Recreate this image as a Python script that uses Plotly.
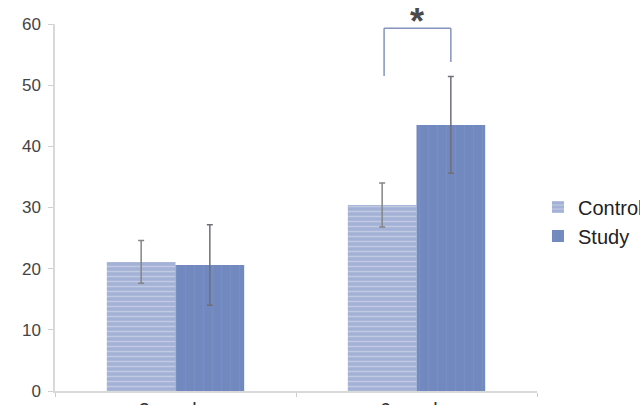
import plotly.graph_objects as go

# ---- data ----
categories = ["3 weeks", "6 weeks"]
control_values = [21.1, 30.4]
control_err = [3.5, 3.6]
study_values = [20.6, 43.5]
study_err = [6.6, 7.9]
y_ticks = [0, 10, 20, 30, 40, 50, 60]

# significance bracket (between Control and Study at "6 weeks")
bracket_top = 59.3
bracket_left_bottom = 51.5
bracket_right_bottom = 53.8
sig_label = "*"

BARGAP = 0.43
FONT = "Liberation Sans"

fig = go.Figure()
fig.add_trace(go.Bar(
    name="Control", x=categories, y=control_values,
    error_y=dict(type="data", array=control_err, color="#858585", thickness=1.5, width=3),
    marker=dict(color="#a2b1d5", line=dict(width=0),
                pattern=dict(shape="-", fgcolor="#dde3f0", size=5, solidity=0.3)),
))
fig.add_trace(go.Bar(
    name="Study", x=categories, y=study_values,
    error_y=dict(type="data", array=study_err, color="#6f6f78", thickness=1.5, width=3),
    marker=dict(color="#7189bf", line=dict(width=0),
                pattern=dict(shape="|", fgcolor="#7f95c7", size=9, solidity=0.15)),
))

# bracket positions derived from bar layout
group_w = 1 - BARGAP
cat_idx = 1
left_x = cat_idx - group_w / 4 + 0.008
right_x = cat_idx + group_w / 4
line_style = dict(color="#8593bf", width=1.5)
fig.add_shape(type="line", xref="x", yref="y", x0=left_x, x1=right_x,
              y0=bracket_top, y1=bracket_top, line=line_style)
fig.add_shape(type="line", xref="x", yref="y", x0=left_x, x1=left_x,
              y0=bracket_left_bottom, y1=bracket_top, line=line_style)
fig.add_shape(type="line", xref="x", yref="y", x0=right_x, x1=right_x,
              y0=bracket_right_bottom, y1=bracket_top, line=line_style)
fig.add_annotation(x=cat_idx, y=1.008, xref="x", yref="paper",
                   text="<b>" + sig_label + "</b>", showarrow=False, yanchor="middle",
                   font=dict(family=FONT, size=36, color="#4a4a4a"))

fig.update_layout(
    width=640, height=405,
    margin=dict(l=55, r=103, t=24, b=14),
    paper_bgcolor="white", plot_bgcolor="white",
    barmode="group", bargap=BARGAP, bargroupgap=0,
    font=dict(family=FONT, color="#444444"),
    showlegend=True,
    legend=dict(xref="container", yref="container", x=0.8406, xanchor="left",
                y=0.453, yanchor="middle",
                font=dict(family=FONT, size=20, color="#222222"),
                itemwidth=30, tracegroupgap=0, bgcolor="rgba(0,0,0,0)"),
)
fig.update_xaxes(
    type="category", showgrid=False, showline=True, linecolor="#d9d9d9", linewidth=1.5,
    ticks="outside", tickson="boundaries", ticklen=4, tickcolor="#cccccc",
    tickfont=dict(family=FONT, size=20, color="#333333"), automargin=False,
)
fig.update_yaxes(
    range=[0, 60], tickvals=y_ticks, showgrid=False, zeroline=False,
    showline=True, linecolor="#d9d9d9", linewidth=1.5,
    ticks="outside", ticklen=5, tickcolor="#d0d0d0", ticklabelstandoff=4,
    tickfont=dict(family=FONT, size=17, color="#444444"), automargin=False,
)

fig.write_html("out.html")
